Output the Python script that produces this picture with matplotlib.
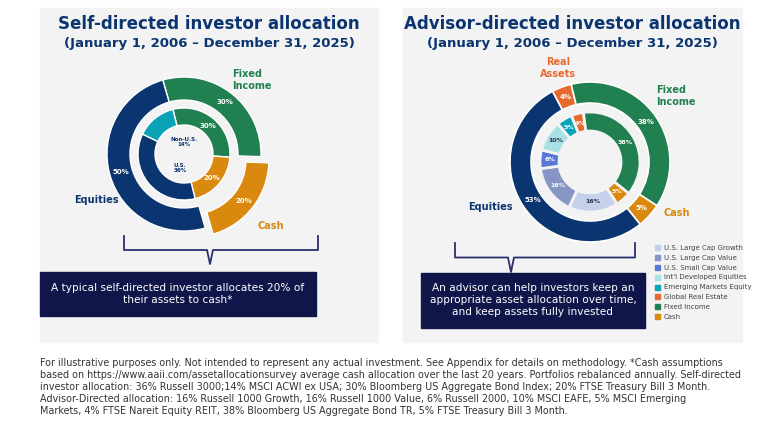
import numpy as np
import matplotlib.pyplot as plt

W, H = 783, 440
navy = '#0b3570'
green = '#21804f'
orange = '#d9890d'
teal = '#0aa3b5'
rust = '#e8692e'
dark = '#10164a'

# left chart data
self_outer_labels = ['Fixed Income', 'Cash', 'Equities']
self_outer = [30, 20, 50]
self_inner_labels = ['Fixed Income', 'Cash', 'U.S.', 'Non-U.S.']
self_inner = [30, 20, 36, 14]

# right chart data
adv_outer_labels = ['Real Assets', 'Fixed Income', 'Cash', 'Equities']
adv_outer = [4, 38, 5, 53]
adv_inner_labels = ['Global Real Estate', 'Fixed Income', 'Cash', 'U.S. Large Cap Growth',
                    'U.S. Large Cap Value', 'U.S. Small Cap Value', "Int'l Developed Equities",
                    'Emerging Markets Equity']
adv_inner = [4, 38, 5, 16, 16, 6, 10, 5]
adv_inner_colors = [rust, green, orange, '#c5d0ea', '#8595c4', '#5a78d6', '#a9e0e4', teal]
legend_order = [3, 4, 5, 6, 7, 0, 1, 2]

fig = plt.figure(figsize=(7.83, 4.4), dpi=100)
fig.patch.set_facecolor('white')
bg = fig.add_axes([0, 0, 1, 1])
bg.set_xlim(0, W); bg.set_ylim(H, 0); bg.axis('off')

for x0, x1 in [(40, 378), (403, 742)]:
    bg.add_patch(plt.Rectangle((x0, 8), x1 - x0, 334, color='#f3f3f3', zorder=0))


def donut_ax(cx, cy, half=110):
    ax = fig.add_axes([(cx - half) / W, 1 - (cy + half) / H, 2 * half / W, 2 * half / H])
    return ax


def fin(ax, half=110):
    ax.set_xlim(-half, half); ax.set_ylim(-half, half); ax.set_aspect('equal'); ax.axis('off')


def put(ax, vals, start, r, txts, colors, shift=None, **kw):
    a = start
    for i, (v, t, c) in enumerate(zip(vals, txts, colors)):
        mid = np.deg2rad(a - v * 3.6 / 2)
        rr = r + (shift[i] if shift else 0)
        ax.text(rr * np.cos(mid), rr * np.sin(mid), t, ha='center', va='center', color=c, **kw)
        a -= v * 3.6


# ---- left donut
ax = donut_ax(184, 154)
ax.pie(self_outer, radius=77, startangle=106, counterclock=False, colors=[green, orange, navy],
       explode=[0, 10, 0], wedgeprops=dict(width=23, edgecolor='white', linewidth=1))
ax.pie(self_inner, radius=46, startangle=104, counterclock=False, colors=[green, orange, navy, teal],
       wedgeprops=dict(width=17, edgecolor='white', linewidth=1))
fin(ax)
put(ax, self_outer, 106, 66, ['30%', '20%', '50%'], ['white'] * 3, shift=[0, 10, 0],
    fontsize=5, fontweight='bold')
put(ax, self_inner, 104, 37, ['30%', '20%', '', ''], ['white'] * 4, fontsize=5, fontweight='bold')
ax.text(0, 12, 'Non-U.S.\n14%', ha='center', va='center', color=navy, fontsize=4, fontweight='bold', linespacing=1)
ax.text(-4, -14, 'U.S.\n36%', ha='center', va='center', color=navy, fontsize=4, fontweight='bold', linespacing=1)
bg.text(232, 80, 'Fixed\nIncome', color=green, fontsize=7, fontweight='bold', va='center', linespacing=1.2)
bg.text(258, 226, 'Cash', color=orange, fontsize=7, fontweight='bold', va='center')
bg.text(74, 200, 'Equities', color=navy, fontsize=7, fontweight='bold', va='center')

# ---- right donut
ax = donut_ax(590, 162)
ax.pie(adv_outer, radius=80, startangle=118, counterclock=False, colors=[rust, green, orange, navy],
       wedgeprops=dict(width=21, edgecolor='white', linewidth=1.2))
ax.pie(adv_inner, radius=50, startangle=112, counterclock=False, colors=adv_inner_colors,
       wedgeprops=dict(width=19, edgecolor='#f3f3f3', linewidth=2))
fin(ax)
put(ax, adv_outer, 118, 69, ['4%', '38%', '5%', '53%'], ['white'] * 4, fontsize=5, fontweight='bold')
put(ax, adv_inner, 112, 40, ['4%', '38%', '5%', '16%', '16%', '6%', '10%', '5%'],
    ['white', 'white', 'white', '#333355', 'white', 'white', '#333355', 'white'], fontsize=4.5, fontweight='bold')
bg.text(558, 68, 'Real\nAssets', color=rust, fontsize=7, fontweight='bold', ha='center', va='center', linespacing=1.2)
bg.text(656, 96, 'Fixed\nIncome', color=green, fontsize=7, fontweight='bold', va='center', linespacing=1.2)
bg.text(664, 213, 'Cash', color=orange, fontsize=7, fontweight='bold', va='center')
bg.text(468, 207, 'Equities', color=navy, fontsize=7, fontweight='bold', va='center')

for i, k in enumerate(legend_order):
    y = 248 + i * 9.8
    bg.add_patch(plt.Rectangle((655, y - 2.5), 5, 5, color=adv_inner_colors[k]))
    bg.text(664, y, adv_inner_labels[k], fontsize=5, color='#444444', va='center')

# titles
for cx, t in [(209, 'Self-directed investor allocation'), (572, 'Advisor-directed investor allocation')]:
    bg.text(cx, 24, t, ha='center', va='center', color=navy, fontsize=12, fontweight='bold')
    bg.text(cx, 43, '(January 1, 2006 \u2013 December 31, 2025)', ha='center', va='center',
            color=navy, fontsize=9.5, fontweight='bold')


def bracket(x0, x1, xm, y0, y1):
    ym = (y0 + y1) / 2
    bg.plot([x0, x0, xm - 3, xm, xm + 3, x1, x1], [y0, ym, ym, y1, ym, ym, y0],
            color='#2b2f6e', lw=1.3, solid_joinstyle='round')


bracket(124, 318, 210, 236, 264)
bracket(455, 635, 511, 243, 272)

bg.add_patch(plt.Rectangle((40, 272), 276, 44, color=dark))
bg.text(178, 294, 'A typical self-directed investor allocates 20% of\ntheir assets to cash*', ha='center',
        va='center', color='white', fontsize=7.6, linespacing=1.3)
bg.add_patch(plt.Rectangle((421, 273), 224, 55, color=dark))
bg.text(533, 300, 'An advisor can help investors keep an\nappropriate asset allocation over time,\nand keep assets fully invested',
        ha='center', va='center', color='white', fontsize=7.6, linespacing=1.3)

foot = ('For illustrative purposes only. Not intended to represent any actual investment. See Appendix for details on methodology. *Cash assumptions\n'
        'based on https://www.aaii.com/assetallocationsurvey average cash allocation over the last 20 years. Portfolios rebalanced annually. Self-directed\n'
        'investor allocation: 36% Russell 3000;14% MSCI ACWI ex USA; 30% Bloomberg US Aggregate Bond Index; 20% FTSE Treasury Bill 3 Month.\n'
        'Advisor-Directed allocation: 16% Russell 1000 Growth, 16% Russell 1000 Value, 6% Russell 2000, 10% MSCI EAFE, 5% MSCI Emerging\n'
        'Markets, 4% FTSE Nareit Equity REIT, 38% Bloomberg US Aggregate Bond TR, 5% FTSE Treasury Bill 3 Month.')
bg.text(40, 358, foot, ha='left', va='top', color='#333333', fontsize=6.9, linespacing=1.25)

fig.savefig('out.png', dpi=100)
